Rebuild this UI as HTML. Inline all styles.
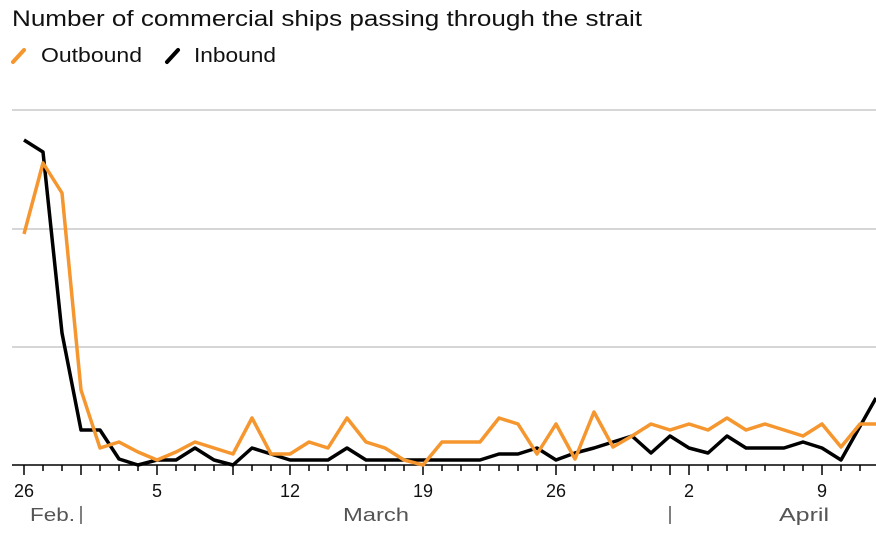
<!DOCTYPE html>
<html><head><meta charset="utf-8"><style>
body{margin:0;background:#fff;}
svg{display:block;font-family:"Liberation Sans",sans-serif;}
</style></head><body>
<svg width="876" height="545" viewBox="0 0 876 545">
<text x="12" y="26" font-size="22" fill="#111" textLength="630" lengthAdjust="spacingAndGlyphs">Number of commercial ships passing through the strait</text>
<line x1="13" y1="62" x2="24" y2="50" stroke="#f5962e" stroke-width="4" stroke-linecap="round"/>
<text x="41" y="62" font-size="20" fill="#111" textLength="101" lengthAdjust="spacingAndGlyphs">Outbound</text>
<line x1="167" y1="62" x2="178" y2="50" stroke="#000" stroke-width="4" stroke-linecap="round"/>
<text x="194" y="62" font-size="20" fill="#111" textLength="82" lengthAdjust="spacingAndGlyphs">Inbound</text>
<g stroke="#c8c8c8" stroke-width="1.5">
<line x1="12" y1="110" x2="876" y2="110"/>
<line x1="12" y1="229" x2="876" y2="229"/>
<line x1="12" y1="347" x2="876" y2="347"/>
</g>
<line x1="12" y1="465" x2="876" y2="465" stroke="#000" stroke-width="1.5"/>
<g stroke="#000" stroke-width="1.5">
<line x1="24" y1="465" x2="24" y2="475"/><line x1="43" y1="465" x2="43" y2="471"/><line x1="62" y1="465" x2="62" y2="471"/><line x1="81" y1="465" x2="81" y2="475"/><line x1="100" y1="465" x2="100" y2="471"/><line x1="119" y1="465" x2="119" y2="471"/><line x1="138" y1="465" x2="138" y2="471"/><line x1="157" y1="465" x2="157" y2="475"/><line x1="176" y1="465" x2="176" y2="471"/><line x1="195" y1="465" x2="195" y2="471"/><line x1="214" y1="465" x2="214" y2="471"/><line x1="233" y1="465" x2="233" y2="475"/><line x1="252" y1="465" x2="252" y2="471"/><line x1="271" y1="465" x2="271" y2="471"/><line x1="290" y1="465" x2="290" y2="475"/><line x1="309" y1="465" x2="309" y2="471"/><line x1="328" y1="465" x2="328" y2="471"/><line x1="347" y1="465" x2="347" y2="471"/><line x1="366" y1="465" x2="366" y2="471"/><line x1="385" y1="465" x2="385" y2="471"/><line x1="404" y1="465" x2="404" y2="471"/><line x1="423" y1="465" x2="423" y2="475"/><line x1="442" y1="465" x2="442" y2="471"/><line x1="461" y1="465" x2="461" y2="471"/><line x1="480" y1="465" x2="480" y2="471"/><line x1="499" y1="465" x2="499" y2="471"/><line x1="518" y1="465" x2="518" y2="471"/><line x1="537" y1="465" x2="537" y2="471"/><line x1="556" y1="465" x2="556" y2="475"/><line x1="575" y1="465" x2="575" y2="471"/><line x1="594" y1="465" x2="594" y2="471"/><line x1="613" y1="465" x2="613" y2="471"/><line x1="632" y1="465" x2="632" y2="471"/><line x1="651" y1="465" x2="651" y2="471"/><line x1="670" y1="465" x2="670" y2="475"/><line x1="689" y1="465" x2="689" y2="475"/><line x1="708" y1="465" x2="708" y2="471"/><line x1="727" y1="465" x2="727" y2="471"/><line x1="746" y1="465" x2="746" y2="471"/><line x1="765" y1="465" x2="765" y2="471"/><line x1="784" y1="465" x2="784" y2="471"/><line x1="803" y1="465" x2="803" y2="471"/><line x1="822" y1="465" x2="822" y2="475"/><line x1="841" y1="465" x2="841" y2="471"/><line x1="860" y1="465" x2="860" y2="471"/>
</g>
<polyline fill="none" stroke="#000" stroke-width="3.5" stroke-linejoin="round" points="24,140 43,152 62,333 81,430 100,430 119,459 138,465 157,460 176,460 195,448 214,460 233,465 252,448 271,454 290,460 309,460 328,460 347,448 366,460 385,460 404,460 423,460 442,460 461,460 480,460 499,454 518,454 537,448 556,460 575,453 594,448 613,442 632,436 651,453 670,436 689,448 708,453 727,436 746,448 765,448 784,448 803,442 822,448 841,460 876,398"/>
<polyline fill="none" stroke="#f5962e" stroke-width="3.5" stroke-linejoin="round" points="24,234 43,163 62,193 81,390 100,448 119,442 138,452 157,460 176,452 195,442 214,448 233,454 252,418 271,454 290,454 309,442 328,448 347,418 366,442 385,448 404,460 423,465 442,442 461,442 480,442 499,418 518,424 537,454 556,424 575,459 594,412 613,447 632,436 651,424 670,430 689,424 708,430 727,418 746,430 765,424 784,430 803,436 822,424 841,447 860,424 876,424"/>
<g font-size="18" fill="#111" text-anchor="middle">
<text x="24" y="497">26</text><text x="157" y="497">5</text><text x="290" y="497">12</text><text x="423" y="497">19</text><text x="556" y="497">26</text><text x="689" y="497">2</text><text x="822" y="497">9</text>
</g>
<g font-size="18" fill="#555">
<text x="30" y="521" textLength="45" lengthAdjust="spacingAndGlyphs">Feb.</text><text x="343" y="521" textLength="66" lengthAdjust="spacingAndGlyphs">March</text><text x="779" y="521" textLength="50" lengthAdjust="spacingAndGlyphs">April</text>
</g>
<line x1="81" y1="506" x2="81" y2="524" stroke="#555" stroke-width="1.5"/>
<line x1="670" y1="506" x2="670" y2="524" stroke="#555" stroke-width="1.5"/>
</svg>
</body></html>
